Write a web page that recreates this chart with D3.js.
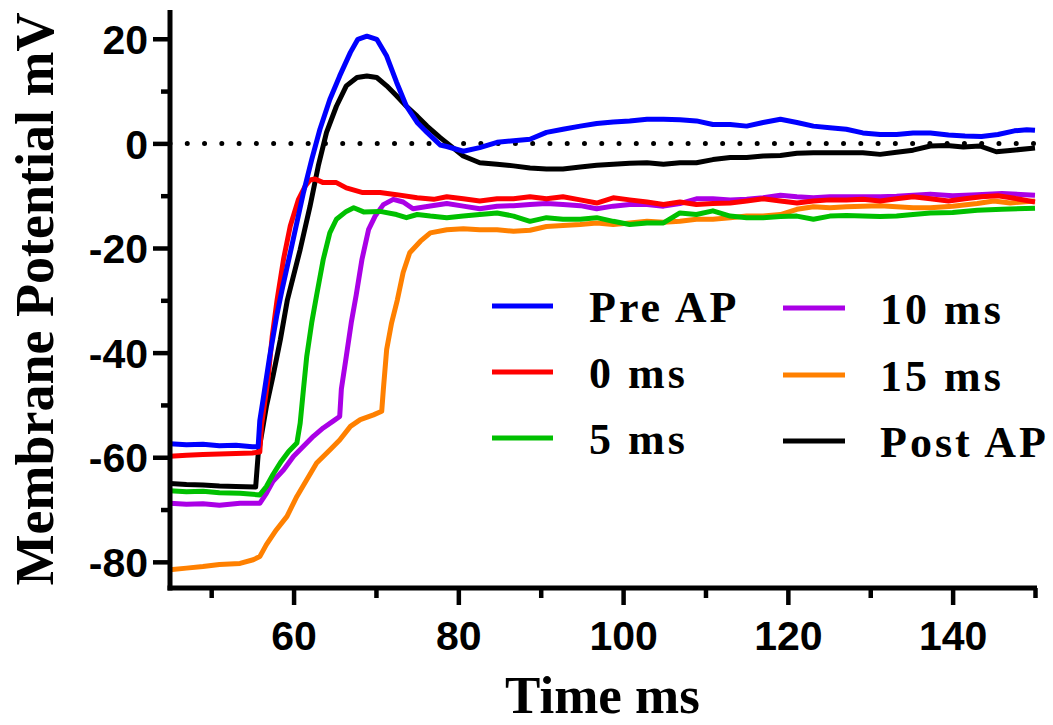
<!DOCTYPE html>
<html>
<head>
<meta charset="utf-8">
<script src="https://cdn.jsdelivr.net/npm/d3@7"></script>
<style>
  html, body { margin: 0; padding: 0; background: #fff; }
  svg { display: block; }
</style>
</head>
<body>
<svg id="chart" width="1053" height="725"></svg>
<script>
// ---------- data (time ms, membrane potential mV) ----------
const preAP = [[45,-57.4],[47,-57.6],[49,-57.5],[51,-57.8],[53,-57.7],[55,-58.0],[55.7,-58.0],[55.9,-53],[56.3,-49],[57.1,-40.7],[57.95,-33],[58.6,-28],[59.6,-20.9],[61.2,-9.4],[62.2,-3.1],[63.2,2.7],[64.4,8.4],[65.6,12.9],[66.9,17.4],[67.8,19.9],[68.9,20.5],[70.1,19.9],[71.3,16.7],[72.5,11.7],[73.7,7.1],[75.0,4.0],[76.2,2.1],[77.8,-0.3],[78.6,-0.6],[80.6,-1.5],[82.6,-0.8],[84.7,0.2],[86.7,0.5],[88.7,0.8],[90.7,2.1],[92.7,2.7],[94.8,3.3],[96.8,3.8],[98.8,4.1],[100.8,4.3],[102.9,4.6],[104.9,4.6],[106.9,4.5],[108.9,4.3],[110.9,3.6],[113.0,3.6],[115.0,3.3],[117.0,4.0],[119.1,4.6],[121.1,4.0],[123.1,3.3],[125.1,3.0],[127.1,2.7],[129.1,2.0],[131.2,1.7],[133.2,1.7],[135.2,2.0],[137.3,2.0],[139.5,1.6],[141.5,1.4],[143.5,1.3],[145.5,1.7],[147.5,2.4],[149,2.6],[150,2.5]];
const ms0 = [[45,-59.8],[47,-59.6],[49,-59.5],[51,-59.4],[53,-59.3],[55,-59.2],[55.9,-59.0],[56.1,-54],[56.9,-45],[57.4,-37],[58.0,-29.9],[58.8,-22],[59.6,-15.8],[60.6,-10.7],[61.4,-8.2],[62.0,-7.0],[62.6,-6.8],[63.6,-7.5],[65.2,-7.5],[66.4,-8.5],[68.4,-9.4],[70.5,-9.4],[72.5,-9.8],[75,-10.4],[77,-10.7],[78.6,-10.2],[80.6,-10.6],[82.6,-11.0],[84.7,-10.6],[86.7,-10.6],[88.7,-10.2],[90.7,-10.6],[92.7,-10.2],[94.8,-10.8],[96.8,-11.4],[98.8,-10.4],[100.8,-10.8],[102.9,-11.2],[104.9,-11.7],[106.9,-11.2],[108.9,-11.7],[110.9,-11.5],[113,-11.4],[115,-11.0],[117,-10.6],[119.1,-11.0],[121.1,-11.4],[123.1,-11.0],[125.1,-10.8],[127.1,-10.8],[129.1,-10.7],[131.2,-11.0],[133.2,-10.6],[135.2,-10.2],[137.3,-10.6],[139.5,-11.0],[141.5,-10.6],[143.5,-10.2],[145.5,-10.0],[147.5,-10.5],[150,-11.2]];
const ms5 = [[45,-66.4],[47,-66.6],[49,-66.5],[51,-66.8],[53.5,-66.9],[55.9,-67.2],[56.7,-65.6],[57.5,-63.3],[58.5,-60.8],[59.4,-58.9],[60.4,-57.3],[60.8,-53.5],[61.2,-47],[61.6,-40.7],[62.2,-34.3],[62.8,-29.0],[63.6,-22.2],[64.4,-17.1],[65.2,-14.5],[66.4,-13.0],[67.3,-12.3],[68.5,-13.1],[70.5,-13.0],[72.5,-13.6],[73.7,-14.2],[75,-13.6],[76.6,-13.9],[78.6,-14.2],[80.6,-13.9],[82.6,-13.6],[84.7,-13.3],[86.7,-13.9],[88.7,-14.9],[90.7,-14.2],[92.7,-14.5],[94.8,-14.5],[96.8,-14.2],[98.8,-14.9],[100.8,-15.5],[102.9,-15.2],[104.9,-15.2],[106.9,-13.3],[108.9,-13.6],[110.9,-12.9],[113,-13.9],[115,-14.2],[117,-14.2],[119.1,-14.0],[121.1,-13.9],[123.1,-14.5],[125.1,-13.9],[127.1,-13.8],[129.1,-13.9],[131.2,-14.0],[133.2,-13.9],[135.2,-13.6],[137.3,-13.3],[140,-13.2],[143,-12.8],[146,-12.6],[150,-12.4]];
const ms10 = [[45,-68.8],[47,-69.0],[49,-68.9],[51,-69.2],[53.5,-68.8],[55.9,-68.8],[56.7,-66.9],[57.5,-64.6],[58.8,-62.4],[60.0,-59.8],[61.2,-57.9],[62.4,-56.0],[63.6,-54.4],[64.8,-53.1],[65.6,-52.2],[65.8,-47],[66.4,-40.7],[67.0,-34.3],[67.6,-29.0],[68.3,-22.2],[69.1,-16.5],[69.9,-13.9],[70.9,-11.7],[72.1,-10.7],[73.3,-11.2],[74.5,-12.5],[76,-12.1],[78.6,-11.5],[80.6,-12.0],[82.6,-12.5],[84.7,-12.0],[86.7,-11.9],[88.7,-11.7],[90.7,-11.5],[92.7,-11.7],[94.8,-11.9],[96.8,-12.5],[98.8,-12.0],[100.8,-11.7],[102.9,-11.7],[104.9,-12.0],[106.9,-11.5],[108.9,-10.6],[110.9,-10.6],[113,-10.8],[115,-10.7],[117,-10.4],[119.1,-9.9],[121.1,-10.2],[123.1,-10.4],[125.1,-10.2],[127.1,-10.2],[129.1,-10.2],[131.2,-10.2],[133.2,-10.1],[135.2,-9.9],[137.3,-9.7],[140,-10.0],[143,-9.8],[146,-9.6],[150,-9.9]];
const ms15 = [[45,-81.5],[47,-81.2],[49,-80.9],[51,-80.5],[53.5,-80.3],[55.1,-79.6],[55.9,-79.0],[56.7,-76.7],[57.9,-73.9],[59.2,-71.3],[60.4,-67.5],[61.6,-64.3],[62.8,-61.1],[64.4,-58.6],[65.6,-56.7],[66.9,-54.1],[68.1,-52.8],[69.7,-51.9],[70.7,-51.2],[70.9,-47],[71.3,-39.4],[71.9,-34.3],[72.6,-29.9],[73.3,-24.7],[74.1,-20.9],[75.4,-18.7],[76.6,-17.1],[78.6,-16.5],[80.6,-16.3],[82.6,-16.5],[84.7,-16.5],[86.7,-16.8],[88.7,-16.6],[90.7,-15.9],[92.7,-15.7],[94.8,-15.5],[96.8,-15.2],[98.8,-15.5],[100.8,-15.2],[102.9,-14.9],[104.9,-15.1],[106.9,-14.9],[108.9,-14.5],[110.9,-14.5],[113,-14.2],[115,-13.9],[117,-13.9],[119.1,-13.6],[121.1,-12.6],[123.1,-12.1],[125.1,-12.3],[127.1,-12.1],[129.1,-12.0],[131.2,-11.9],[133.2,-12.1],[135.2,-12.3],[137.3,-12.3],[140,-12.0],[143,-11.5],[145,-11.0],[147,-11.4],[150,-11.0]];
const postAP = [[45,-65.0],[47,-65.2],[49,-65.3],[51,-65.5],[53,-65.6],[55.4,-65.7],[55.7,-59.5],[56.7,-50.3],[57.5,-44.5],[58.4,-37.5],[59.25,-29.9],[60.8,-20.3],[62.0,-12],[63.0,-4.3],[64.0,2.1],[65.2,7.1],[66.4,11.0],[67.7,12.6],[68.9,12.9],[70.1,12.6],[71.3,11.0],[72.5,9.1],[73.7,7.1],[75.0,5.2],[76.2,3.3],[77.8,1.1],[78.6,0.1],[80.6,-2.4],[82.6,-3.7],[84.7,-4.0],[86.7,-4.3],[88.7,-4.7],[90.7,-4.9],[92.7,-4.9],[94.8,-4.5],[96.8,-4.2],[98.8,-4.0],[100.8,-3.8],[102.9,-3.7],[104.9,-4.0],[106.9,-3.7],[108.9,-3.7],[110.9,-3.1],[113.0,-2.7],[115.0,-2.7],[117.0,-2.4],[119.1,-2.3],[121.1,-1.9],[123.1,-1.8],[125.1,-1.8],[127.1,-1.8],[129.1,-1.8],[131.2,-2.1],[133.2,-1.7],[135.2,-1.3],[137.3,-0.5],[139.3,-0.4],[141.3,-0.7],[143.3,-0.5],[145.3,-1.6],[147.3,-1.3],[150,-0.9]];

const seriesNames  = ["Pre AP", "0 ms", "5 ms", "10 ms", "15 ms", "Post AP"];
const seriesData   = [preAP, ms0, ms5, ms10, ms15, postAP];
const seriesColors = ["#0000ff", "#ff0000", "#00c000", "#aa00e6", "#ff8000", "#000000"];

const xMajorTicks = [60, 80, 100, 120, 140];
const xMinorTicks = [50, 70, 90, 110, 130, 150];
const yMajorTicks = [20, 0, -20, -40, -60, -80];
const yMinorTicks = [10, -10, -30, -50, -70];
const xDomain = [45, 150];
const yDomain = [-85, 25.5];

// ---------- layout ----------
const svg = d3.select("#chart");
const plot = { left: 170, right: 1035, top: 10, bottom: 588 };

const x = d3.scaleLinear().domain(xDomain).range([plot.left, plot.right]);
const y = d3.scaleLinear().domain(yDomain).range([plot.bottom, plot.top]);

const tickFont = "'Liberation Sans', Arial, Helvetica, sans-serif";
const serifFont = "'Liberation Serif', 'Times New Roman', Times, serif";
const plainFormat = d => String(d); // ASCII hyphen-minus like the reference

// zero dotted line
svg.append("line")
  .attr("x1", x(xDomain[0])).attr("x2", x(xDomain[1]))
  .attr("y1", y(0)).attr("y2", y(0))
  .attr("stroke", "#000").attr("stroke-width", 5)
  .attr("stroke-linecap", "round")
  .attr("stroke-dasharray", "0 17.27");

// traces (Post AP underneath, Pre AP on top)
const line = d3.line().x(d => x(d[0])).y(d => y(d[1]));
const order = [5, 4, 3, 2, 1, 0];
svg.append("g").selectAll("path")
  .data(order)
  .join("path")
  .attr("d", i => line(seriesData[i]))
  .attr("fill", "none")
  .attr("stroke", i => seriesColors[i])
  .attr("stroke-width", 5)
  .attr("stroke-linejoin", "round")
  .attr("stroke-linecap", "butt");

// ---------- axes ----------
function styleAxis(g) {
  g.selectAll(".domain").attr("stroke", "#000").attr("stroke-width", 5);
  g.selectAll(".tick line").attr("stroke", "#000").attr("stroke-width", 4.5);
  g.selectAll("text").attr("font-family", tickFont).attr("font-weight", "bold")
    .attr("font-size", 41).attr("fill", "#000");
}

// X axis
const xAxisG = svg.append("g").attr("transform", `translate(0,${plot.bottom})`);
xAxisG.call(d3.axisBottom(x).tickValues(xMajorTicks).tickSize(17).tickPadding(16).tickSizeOuter(0).tickFormat(plainFormat));
styleAxis(xAxisG);
xAxisG.select(".domain").attr("d", `M${plot.left - 2.5},0H${plot.right + 2}`);
xAxisG.selectAll(".tick text").attr("dy", "0.71em");
svg.append("g").attr("transform", `translate(0,${plot.bottom})`)
  .call(d3.axisBottom(x).tickValues(xMinorTicks).tickSize(10).tickFormat("").tickSizeOuter(0))
  .call(g => { g.select(".domain").remove(); g.selectAll(".tick line").attr("stroke", "#000").attr("stroke-width", 4.5); });

// Y axis
const yAxisG = svg.append("g").attr("transform", `translate(${plot.left},0)`);
yAxisG.call(d3.axisLeft(y).tickValues(yMajorTicks).tickSize(17).tickPadding(5).tickSizeOuter(0).tickFormat(plainFormat));
styleAxis(yAxisG);
yAxisG.select(".domain").attr("d", `M0,${plot.top}V${plot.bottom + 2.5}`);
yAxisG.selectAll(".tick text").attr("dy", "0.36em");
svg.append("g").attr("transform", `translate(${plot.left},0)`)
  .call(d3.axisLeft(y).tickValues(yMinorTicks).tickSize(9).tickFormat("").tickSizeOuter(0))
  .call(g => { g.select(".domain").remove(); g.selectAll(".tick line").attr("stroke", "#000").attr("stroke-width", 4.5); });

// titles
svg.append("text")
  .attr("x", (plot.left + plot.right) / 2).attr("y", 713)
  .attr("text-anchor", "middle")
  .attr("font-family", serifFont).attr("font-weight", "bold").attr("font-size", 53)
  .text("Time ms");

svg.append("text")
  .attr("transform", `translate(53,${(plot.top + plot.bottom) / 2}) rotate(-90)`)
  .attr("text-anchor", "middle")
  .attr("font-family", serifFont).attr("font-weight", "bold").attr("font-size", 54)
  .text("Membrane Potential mV");

// ---------- legend ----------
const legendCols = [{ x1: 492, x2: 553, tx: 589 }, { x1: 783, x2: 845, tx: 880 }];
const legendRowsY = [[306, 372, 438], [308, 375, 441]];
const legendG = svg.append("g");
seriesNames.forEach((name, i) => {
  const c = Math.floor(i / 3), r = i % 3;
  const col = legendCols[c];
  const ly = legendRowsY[c][r];
  legendG.append("line")
    .attr("x1", col.x1).attr("x2", col.x2).attr("y1", ly).attr("y2", ly)
    .attr("stroke", seriesColors[i]).attr("stroke-width", 5);
  legendG.append("text")
    .attr("x", col.tx).attr("y", ly + 16)
    .attr("font-family", serifFont).attr("font-weight", "bold").attr("font-size", 44)
    .attr("letter-spacing", 3)
    .text(name);
});
</script>
</body>
</html>
